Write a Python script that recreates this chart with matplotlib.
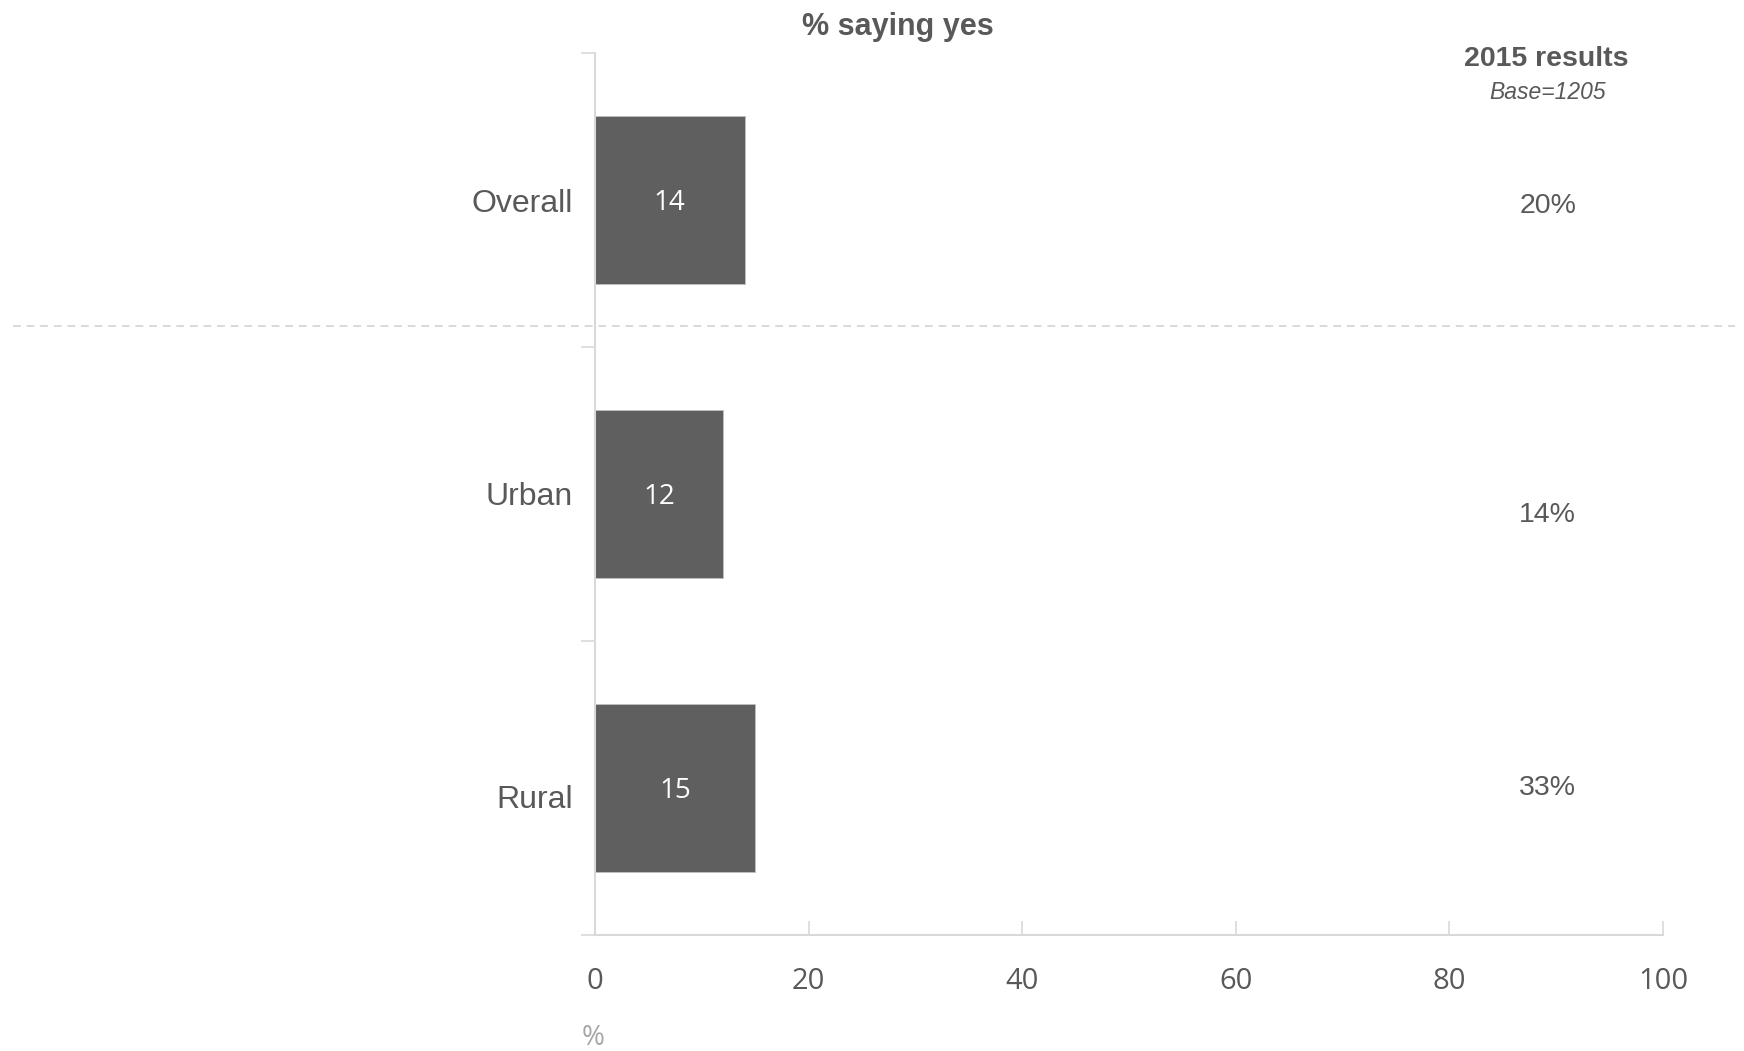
import numpy as np
import matplotlib
matplotlib.use("Agg")
from matplotlib import pyplot as plt
import matplotlib.transforms as mtransforms
from matplotlib.lines import Line2D

categories = ["Overall", "Urban", "Rural"]
yes_pct = [14, 12, 15]
results_2015 = ["20%", "14%", "33%"]
xticks = [0, 20, 40, 60, 80, 100]

dark = "#595959"
grey = "#d9d9d9"
bar_col = "#5f5f5f"
narrow = ["Open Sans", "DejaVu Sans"]
arial = ["Liberation Sans", "DejaVu Sans"]

fig = plt.figure(figsize=(17.44, 10.51), dpi=100)
ax = fig.add_axes([0.3412, 0.1104, 0.6123, 0.8392])

y = np.arange(len(categories))
bars = ax.barh(y, yes_pct, height=0.57, color=bar_col, edgecolor="#bfbfbf", linewidth=0.6)
for b, v in zip(bars, yes_pct):
    ax.text(b.get_width() / 2, b.get_y() + b.get_height() / 2 + 0.01, str(v),
            ha="center", va="center", color="white", fontsize=20, family=narrow)

ax.set_xlim(0, 100)
ax.set_ylim(2.5, -0.5)

# spines
for s in ["top", "right"]:
    ax.spines[s].set_visible(False)
for s in ["left", "bottom"]:
    ax.spines[s].set_color(grey)
    ax.spines[s].set_linewidth(1.5)

# x axis
ax.set_xticks(xticks)
ax.set_xticklabels([str(t) for t in xticks], family=narrow, fontsize=21, color=dark)
ax.tick_params(axis="x", direction="in", length=10, width=1.2, color=grey, pad=23)
ax.text(-0.002, -0.117, "%", transform=ax.transAxes, ha="center", va="center",
        family=narrow, fontsize=20, color="#a6a6a6")

# y axis: labels drawn as text, ticks at boundaries
ax.set_yticks([])
ax.set_yticks([-0.5, 0.5, 1.5, 2.5], minor=True)
ax.tick_params(axis="y", which="minor", length=10, width=1.2, color=grey)
lab_off = [0.015, 0.01, 0.04]
for i, (c, o) in enumerate(zip(categories, lab_off)):
    ax.text(-0.021, i + o, c, transform=mtransforms.blended_transform_factory(ax.transAxes, ax.transData),
            ha="right", va="center", fontsize=23, color=dark, family=arial)

# dashed separator across the figure
trans = mtransforms.blended_transform_factory(fig.transFigure, ax.transData)
fig.add_artist(Line2D([0.0075, 0.995], [0.429, 0.429], transform=trans,
                      color=grey, lw=1.4, linestyle=(0, (4, 3))))

# title
fig.text(0.515, 0.974, "% saying yes", ha="center", va="center",
         fontsize=22, fontweight="bold", color=dark, family=arial)

# 2015 results column
fig.text(0.8865, 0.944, "2015 results", ha="center", va="center",
         fontsize=20.5, fontweight="bold", color=dark, family=arial)
fig.text(0.8875, 0.912, "Base=1205", ha="center", va="center",
         fontsize=16.5, style="italic", color=dark, family=arial)
offsets = [0.02, 0.07, 0.0]
xt = mtransforms.blended_transform_factory(fig.transFigure, ax.transData)
for i, (r, o) in enumerate(zip(results_2015, offsets)):
    ax.text(0.8875, i + o, r, transform=xt, ha="center", va="center",
            fontsize=20.5, color=dark, family=arial)

fig.savefig("out.png", dpi=100)
